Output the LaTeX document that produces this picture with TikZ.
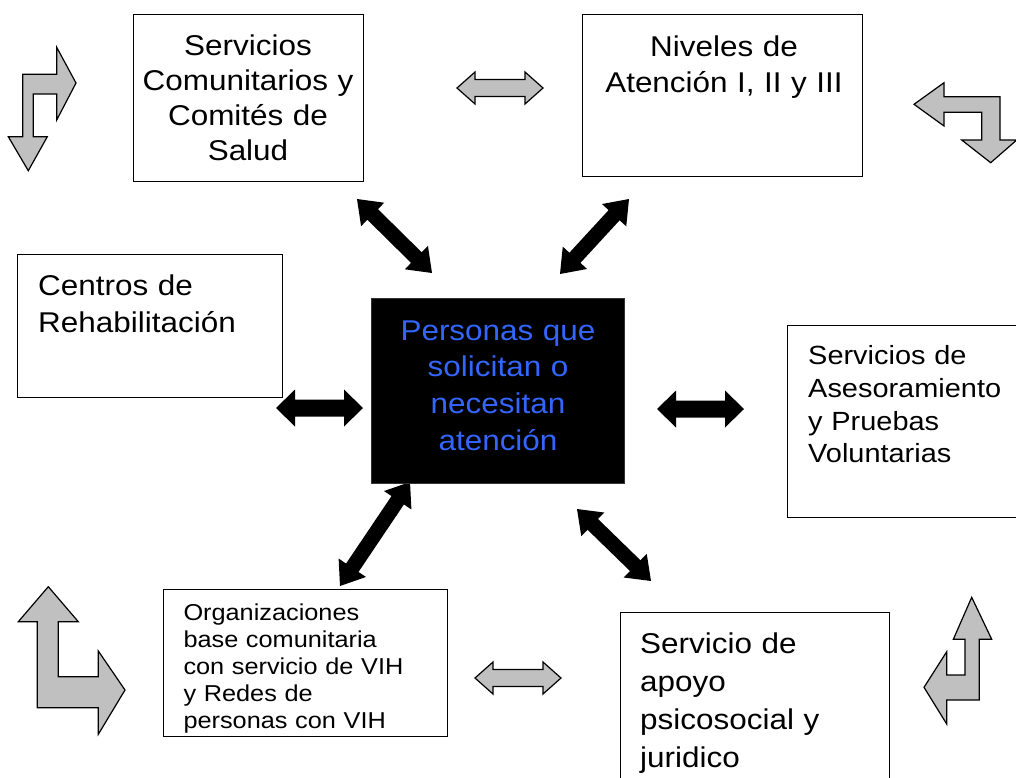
\documentclass[tikz,border=0pt]{standalone}
\usepackage{fontspec}
\setmainfont{Liberation Sans}[FakeStretch=1.1]
\usetikzlibrary{calc}
\definecolor{shapegray}{RGB}{192,192,192}
\definecolor{textblue}{RGB}{51,102,255}
\newcommand\dblarr[6]{%
  \path[#6] (#1)
   -- ($(#1)!#5!(#2)!#4!90:(#2)$)
   -- ($(#1)!#5!(#2)!#3!90:(#2)$)
   -- ($(#2)!#5!(#1)!#3!-90:(#1)$)
   -- ($(#2)!#5!(#1)!#4!-90:(#1)$)
   -- (#2)
   -- ($(#2)!#5!(#1)!#4!90:(#1)$)
   -- ($(#2)!#5!(#1)!#3!90:(#1)$)
   -- ($(#1)!#5!(#2)!#3!-90:(#2)$)
   -- ($(#1)!#5!(#2)!#4!-90:(#2)$)
   -- cycle;}
\tikzset{
  boxnode/.style={draw=black, fill=white, line width=1.2pt, inner sep=0pt, anchor=north west},
  bigtext/.style={inner sep=0pt, font={\fontsize{28.6}{36}\selectfont}},
  midtext/.style={inner sep=0pt, font={\fontsize{26.3}{32.8}\selectfont}},
  smalltext/.style={inner sep=0pt, font={\fontsize{23}{27}\selectfont}},
  grayarrow/.style={fill=shapegray, draw=black, line width=1.2pt, line join=miter},
  blackarrow/.style={fill=black},
}
\begin{document}
\begin{tikzpicture}[x=1pt,y=-1pt]
\useasboundingbox (0,0) rectangle (1016,777);
% connector end points
\coordinate (l1) at (276,408);  \coordinate (l2) at (363,408);
\coordinate (r1) at (657,409);  \coordinate (r2) at (744,409);
\coordinate (nw1) at (357,199); \coordinate (nw2) at (432,273);
\coordinate (ne1) at (629,199); \coordinate (ne2) at (560,274);
\coordinate (sw1) at (410,482); \coordinate (sw2) at (340,586);
\coordinate (se1) at (577,509); \coordinate (se2) at (651,581);
\coordinate (g1) at (457,88);   \coordinate (g2) at (543,88);
\coordinate (g3) at (475,678);  \coordinate (g4) at (561,678);
% black double arrows
\dblarr{l1}{l2}{8.5pt}{18.5pt}{19pt}{blackarrow}
\dblarr{r1}{r2}{8.5pt}{18.5pt}{19pt}{blackarrow}
\dblarr{nw1}{nw2}{7.5pt}{16.5pt}{22pt}{blackarrow}
\dblarr{ne1}{ne2}{7.5pt}{16.5pt}{22pt}{blackarrow}
\dblarr{sw1}{sw2}{7.5pt}{16.5pt}{22pt}{blackarrow}
\dblarr{se1}{se2}{7.5pt}{16.5pt}{22pt}{blackarrow}
% gray double arrows
\dblarr{g1}{g2}{8.5pt}{16pt}{18pt}{grayarrow}
\dblarr{g3}{g4}{8.5pt}{16pt}{18pt}{grayarrow}
% bent gray arrows in the corners
\path[grayarrow] (22.7,74.3) -- (56.7,74.3) -- (56.7,47.3) -- (76,83) -- (56.7,120) -- (56.7,94) -- (33.3,94) -- (33.3,136.7) -- (47.3,136.7) -- (28.3,170.7) -- (8.3,136.7) -- (22.7,136.7) -- cycle;
\path[grayarrow] (914,104.3) -- (944,82.7) -- (944,96.7) -- (1000,96.7) -- (1000,140) -- (1016.7,140) -- (990.7,162.7) -- (961.7,140) -- (981.7,140) -- (981.7,112.3) -- (944,112.3) -- (944,126) -- cycle;
\path[grayarrow] (48.3,586.7) -- (78.3,621.7) -- (58.3,621.7) -- (58.3,676.7) -- (98.3,676.7) -- (98.3,651) -- (125,690) -- (98.3,734.3) -- (98.3,707.7) -- (37.3,707.7) -- (37.3,621.7) -- (18.3,621.7) -- cycle;
\path[grayarrow] (971.7,597.3) -- (991.7,639.3) -- (979.3,639.3) -- (979.3,700) -- (946.7,700) -- (946.7,724) -- (924,687.3) -- (946.7,651.7) -- (946.7,675) -- (965,675) -- (965,639.3) -- (953.3,639.3) -- cycle;
% boxes
\node[boxnode, minimum width=230, minimum height=167] (b1) at (133,14) {};
\node[boxnode, minimum width=280, minimum height=162] (b2) at (582,14) {};
\node[boxnode, minimum width=265, minimum height=143] (b3) at (17,254) {};
\node[boxnode, fill=black, draw=black!80, minimum width=253, minimum height=185] (b4) at (371,298) {};
\node[boxnode, minimum width=240, minimum height=192] (b5) at (787,325) {};
\node[boxnode, minimum width=284, minimum height=147] (b6) at (163,589) {};
\node[boxnode, minimum width=269, minimum height=175] (b7) at (620,612) {};
% texts
\node[bigtext, text width=230, align=center, anchor=base, font={\fontsize{28.6}{35.3}\selectfont}] (t1) at (248,55) {Servicios\\Comunitarios y\\Comités de\\Salud};
\node[bigtext, text width=280, align=center, anchor=base] (t2) at (724,56) {Niveles de\\Atención I, II y III};
\node[bigtext, text width=240, align=left, anchor=base west, font={\fontsize{28.6}{37}\selectfont}] (t3) at (38,295) {Centros de\\Rehabilitación};
\node[bigtext, text width=253, align=center, anchor=base, text=textblue, font={\fontsize{28.6}{36.7}\selectfont}] (t4) at (498,340) {Personas que\\solicitan o\\necesitan\\atención};
\node[midtext, text width=220, align=left, anchor=base west] (t5) at (808,364.5) {Servicios de\\Asesoramiento\\y Pruebas\\Voluntarias};
\node[smalltext, text width=260, align=left, anchor=base west] (t6) at (183.3,620) {Organizaciones\\base comunitaria\\con servicio de VIH\\y Redes de\\personas con VIH};
\node[bigtext, text width=245, align=left, anchor=base west, font={\fontsize{28.6}{38}\selectfont}] (t7) at (640,653.5) {Servicio de\\apoyo\\psicosocial y\\juridico};
\end{tikzpicture}
\end{document}
